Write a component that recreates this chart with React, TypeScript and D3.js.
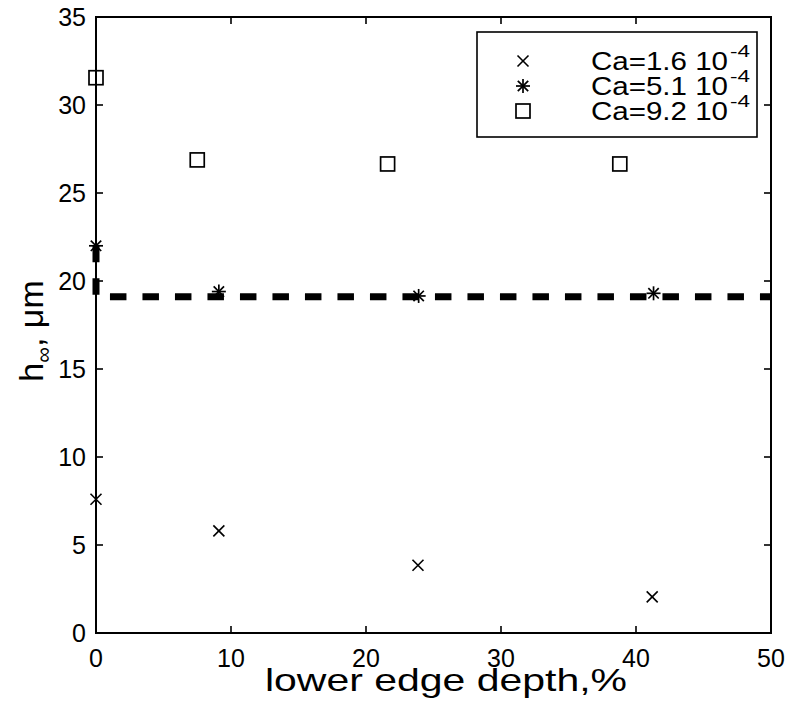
import React from "react";
import * as d3 from "d3";

const xTicks = [0, 10, 20, 30, 40, 50];
const yTicks = [0, 5, 10, 15, 20, 25, 30, 35];

const ca16X = [0, 9.1, 23.85, 41.2];
const ca16Y = [7.6, 5.8, 3.85, 2.05];
const ca51X = [0, 9.1, 23.9, 41.3];
const ca51Y = [22.0, 19.4, 19.15, 19.3];
const ca92X = [0, 7.5, 21.6, 38.8];
const ca92Y = [31.55, 26.88, 26.65, 26.65];
const fitX = [0, 0, 50];
const fitY = [22.0, 19.1, 19.1];

const legendLabels = ["Ca=1.6 10", "Ca=5.1 10", "Ca=9.2 10"];
const legendExp = "-4";

const W = 794, H = 716;
const L = 96, R = 771, T = 17, B = 633;
const FONT = "'Liberation Sans', Arial, Helvetica, sans-serif";

function XMark({ x, y }: { x: number; y: number }) {
  const s = 5.5;
  return (
    <g stroke="#000" strokeWidth={1.6}>
      <line x1={x - s} y1={y - s} x2={x + s} y2={y + s} />
      <line x1={x - s} y1={y + s} x2={x + s} y2={y - s} />
    </g>
  );
}
function Star({ x, y }: { x: number; y: number }) {
  const s = 7, d = 5.2;
  return (
    <g stroke="#000" strokeWidth={1.7}>
      <line x1={x - s} y1={y} x2={x + s} y2={y} />
      <line x1={x} y1={y - s} x2={x} y2={y + s} />
      <line x1={x - d} y1={y - d} x2={x + d} y2={y + d} />
      <line x1={x - d} y1={y + d} x2={x + d} y2={y - d} />
    </g>
  );
}
function Sq({ x, y }: { x: number; y: number }) {
  const s = 7;
  return <rect x={x - s} y={y - s} width={2 * s} height={2 * s} fill="none" stroke="#000" strokeWidth={1.7} />;
}

export default function App() {
  const xs = d3.scaleLinear().domain([0, 50]).range([L, R]);
  const ys = d3.scaleLinear().domain([0, 35]).range([B, T]);
  const fitPts: [number, number][] = fitX.map((v, i) => [xs(v), ys(fitY[i])]);
  const linePath = d3.line()(fitPts) || "";
  const tickLen = 7;
  const legX = 477, legY = 32, legW = 280, legH = 105;
  const rowY = [61, 86, 111];

  return (
    <svg width={W} height={H} style={{ position: "absolute", left: 0, top: 0, background: "#fff" }} fontFamily={FONT}>
      <rect x={0} y={0} width={W} height={H} fill="#fff" />
      <path d={linePath} fill="none" stroke="#000" strokeWidth={7} strokeDasharray="16.5 16" />
      {ca16X.map((v, i) => <XMark key={"a" + i} x={xs(v)} y={ys(ca16Y[i])} />)}
      {ca51X.map((v, i) => <Star key={"b" + i} x={xs(v)} y={ys(ca51Y[i])} />)}
      {ca92X.map((v, i) => <Sq key={"c" + i} x={xs(v)} y={ys(ca92Y[i])} />)}
      <rect x={L} y={T} width={R - L} height={B - T} fill="none" stroke="#000" strokeWidth={2} />
      {xTicks.map((t) => (
        <g key={"xt" + t}>
          <line x1={xs(t)} x2={xs(t)} y1={B} y2={B - tickLen} stroke="#000" strokeWidth={1.6} />
          <line x1={xs(t)} x2={xs(t)} y1={T} y2={T + tickLen} stroke="#000" strokeWidth={1.6} />
          <text x={xs(t)} y={667} fontSize={25} textAnchor="middle">{t}</text>
        </g>
      ))}
      {yTicks.map((t) => (
        <g key={"yt" + t}>
          <line x1={L} x2={L + tickLen} y1={ys(t)} y2={ys(t)} stroke="#000" strokeWidth={1.6} />
          <line x1={R} x2={R - tickLen} y1={ys(t)} y2={ys(t)} stroke="#000" strokeWidth={1.6} />
          <text x={86} y={ys(t) + 9} fontSize={25} textAnchor="end">{t}</text>
        </g>
      ))}
      <rect x={legX} y={legY} width={legW} height={legH} fill="#fff" stroke="#000" strokeWidth={1.6} />
      <XMark x={523} y={rowY[0]} />
      <Star x={523} y={rowY[1]} />
      <Sq x={523} y={rowY[2]} />
      {legendLabels.map((lab, i) => (
        <g key={"lg" + i}>
          <text x={591} y={rowY[i] + 9} fontSize={25} textLength={137} lengthAdjust="spacingAndGlyphs">{lab}</text>
          <text x={730} y={rowY[i] - 4} fontSize={17} textLength={20} lengthAdjust="spacingAndGlyphs">{legendExp}</text>
        </g>
      ))}
      <text x={446} y={691} fontSize={32} textAnchor="middle" textLength={362} lengthAdjust="spacingAndGlyphs">lower edge depth,%</text>
      <text transform={`translate(43, 331) rotate(-90)`} fontSize={34} textAnchor="middle">
        h<tspan dy={8} fontSize={22}>∞</tspan><tspan dy={-8}>, μm</tspan>
      </text>
    </svg>
  );
}
